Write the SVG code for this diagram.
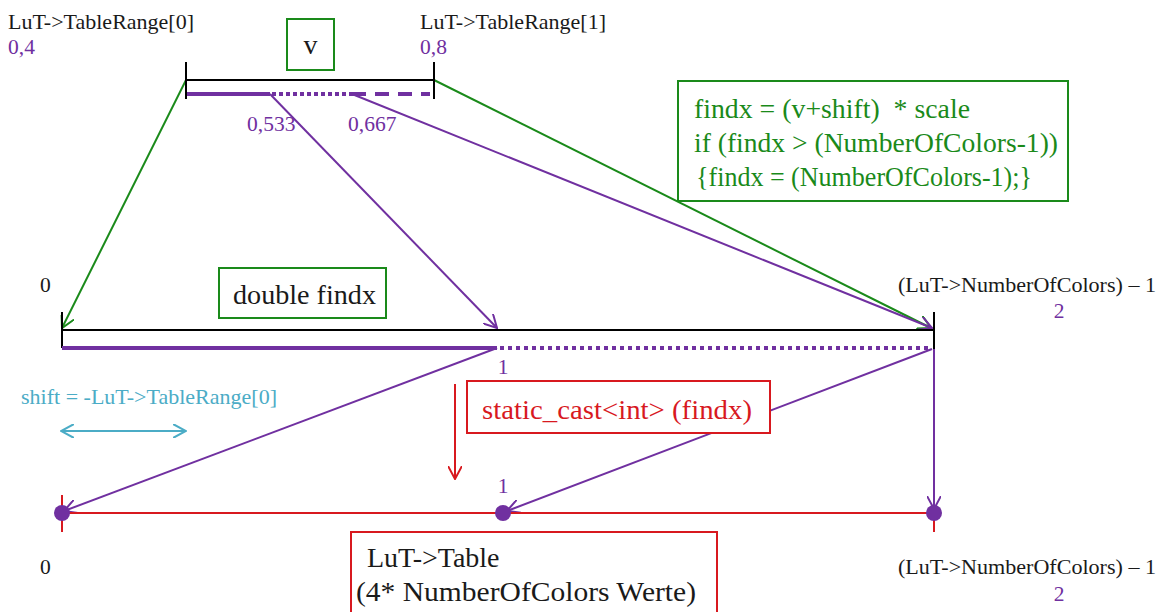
<svg xmlns="http://www.w3.org/2000/svg" width="1164" height="612" viewBox="0 0 1164 612">
<style>
text{font-family:"Liberation Serif","Times New Roman",serif}
.blk{fill:#1a1a1a}
.pur{fill:#7030a0}
.grn{fill:#1a8a1a}
.red{fill:#d8191f}
.cy{fill:#4bacc6}
.s{font-size:21.5px}
.m{font-size:28px}
.ln{fill:none;stroke-width:2}
.pl{stroke:#7030a0}
.gl{stroke:#1a8a1a}
.rl{stroke:#d8191f}
.bl{stroke:#000}
.box{fill:#fff;stroke-width:2}
</style>
<defs>
<marker id="ap" viewBox="0 0 14 14" refX="13" refY="7" markerWidth="14" markerHeight="14" markerUnits="userSpaceOnUse" orient="auto"><path d="M0,0 L13,7 L0,14" fill="none" stroke="#7030a0" stroke-width="2"/></marker>
<marker id="ag" viewBox="0 0 14 14" refX="13" refY="7" markerWidth="14" markerHeight="14" markerUnits="userSpaceOnUse" orient="auto"><path d="M0,0 L13,7 L0,14" fill="none" stroke="#1a8a1a" stroke-width="2"/></marker>
<marker id="ar" viewBox="0 0 14 14" refX="13" refY="7" markerWidth="14" markerHeight="14" markerUnits="userSpaceOnUse" orient="auto"><path d="M0,0 L13,7 L0,14" fill="none" stroke="#d8191f" stroke-width="2"/></marker>
<marker id="ac" viewBox="0 0 14 14" refX="13" refY="7" markerWidth="14" markerHeight="14" markerUnits="userSpaceOnUse" orient="auto-start-reverse"><path d="M0,0 L13,7 L0,14" fill="none" stroke="#4bacc6" stroke-width="2"/></marker>
</defs>

<g id="connectors">
<line class="ln gl" x1="186" y1="80" x2="62" y2="328" marker-end="url(#ag)"/>
<line class="ln gl" x1="434" y1="80" x2="931" y2="328" marker-end="url(#ag)"/>
<line class="ln pl" x1="270" y1="94" x2="497" y2="328" marker-end="url(#ap)"/>
<line class="ln pl" x1="352" y1="94" x2="932" y2="328" marker-end="url(#ap)"/>
<line class="ln pl" x1="497" y1="348" x2="64" y2="511" marker-end="url(#ap)"/>
<line class="ln pl" x1="932" y1="349" x2="507" y2="511" marker-end="url(#ap)"/>
<line class="ln pl" x1="934" y1="348" x2="934" y2="509" marker-end="url(#ap)"/>
<line class="ln rl" x1="455" y1="384" x2="455" y2="479" marker-end="url(#ar)"/>
<line class="ln" stroke="#4bacc6" x1="61" y1="431" x2="186" y2="431" marker-start="url(#ac)" marker-end="url(#ac)"/>
</g>

<g id="top-scale">
<line class="ln bl" x1="186" y1="80" x2="434" y2="80"/>
<line class="ln bl" x1="186" y1="62" x2="186" y2="99"/>
<line class="ln bl" x1="434" y1="62" x2="434" y2="99"/>
<line x1="187" y1="94" x2="270" y2="94" stroke="#7030a0" stroke-width="4"/>
<line x1="272" y1="94" x2="352" y2="94" stroke="#7030a0" stroke-width="4" stroke-dasharray="4 3"/>
<line x1="352" y1="94" x2="430" y2="94" stroke="#7030a0" stroke-width="4" stroke-dasharray="14 9"/>
<text class="s blk" x="8" y="29" textLength="186" lengthAdjust="spacingAndGlyphs">LuT-&gt;TableRange[0]</text>
<text class="s pur" x="8" y="54">0,4</text>
<text class="s blk" x="420" y="29" textLength="186" lengthAdjust="spacingAndGlyphs">LuT-&gt;TableRange[1]</text>
<text class="s pur" x="420" y="54">0,8</text>
<text class="s pur" x="247" y="131">0,533</text>
<text class="s pur" x="348" y="131">0,667</text>
</g>

<g id="v-box">
<rect class="box" stroke="#1a8a1a" x="287" y="19" width="47" height="51"/>
<text class="m blk" x="310.5" y="54" text-anchor="middle">v</text>
</g>

<g id="formula-box">
<rect class="box" stroke="#1a8a1a" x="678" y="81" width="390" height="120"/>
<text class="m grn" x="694" y="118" textLength="276" lengthAdjust="spacingAndGlyphs" style="white-space:pre">findx = (v+shift)  * scale</text>
<text class="m grn" x="694" y="152" textLength="364" lengthAdjust="spacingAndGlyphs">if (findx &gt; (NumberOfColors-1))</text>
<text class="m grn" x="696" y="186" textLength="336" lengthAdjust="spacingAndGlyphs">{findx = (NumberOfColors-1);}</text>
</g>

<g id="mid-scale">
<line class="ln bl" x1="62" y1="330" x2="934" y2="330"/>
<line class="ln bl" x1="62" y1="312" x2="62" y2="348"/>
<line class="ln bl" x1="934" y1="312" x2="934" y2="349"/>
<line x1="62" y1="348" x2="497" y2="348" stroke="#7030a0" stroke-width="4"/>
<line x1="500" y1="348" x2="932" y2="348" stroke="#7030a0" stroke-width="4" stroke-dasharray="4 4"/>
<text class="s blk" x="40" y="292">0</text>
<text class="s blk" x="898" y="292" textLength="258" lengthAdjust="spacingAndGlyphs">(LuT-&gt;NumberOfColors) – 1</text>
<text class="s pur" x="1059" y="318" text-anchor="middle">2</text>
<text class="s pur" x="503" y="374" text-anchor="middle">1</text>
</g>

<g id="double-findx-box">
<rect class="box" stroke="#1a8a1a" x="219" y="268" width="167" height="50"/>
<text class="m blk" x="233" y="304" textLength="143" lengthAdjust="spacingAndGlyphs">double findx</text>
</g>

<g id="shift-label">
<text class="s cy" x="21" y="404" textLength="256" lengthAdjust="spacingAndGlyphs">shift = -LuT-&gt;TableRange[0]</text>
</g>

<g id="cast-box">
<rect class="box" stroke="#d8191f" x="467" y="381" width="303" height="52"/>
<text class="m red" x="482" y="419" textLength="270" lengthAdjust="spacingAndGlyphs">static_cast&lt;int&gt; (findx)</text>
</g>

<g id="bottom-scale">
<line class="ln rl" x1="62" y1="513" x2="934" y2="513"/>
<line class="ln rl" x1="62" y1="495" x2="62" y2="532"/>
<line class="ln rl" x1="934" y1="513" x2="934" y2="532"/>
<circle cx="62" cy="513" r="8" fill="#7030a0"/>
<circle cx="503" cy="513" r="8" fill="#7030a0"/>
<circle cx="934" cy="513" r="8" fill="#7030a0"/>
<text class="s pur" x="503" y="493" text-anchor="middle">1</text>
<text class="s blk" x="40" y="574">0</text>
<text class="s blk" x="898" y="574" textLength="258" lengthAdjust="spacingAndGlyphs">(LuT-&gt;NumberOfColors) – 1</text>
<text class="s pur" x="1059" y="601" text-anchor="middle">2</text>
</g>

<g id="table-box">
<rect class="box" stroke="#d8191f" x="351" y="532" width="366" height="90"/>
<text class="m blk" x="367" y="567">LuT-&gt;Table</text>
<text class="m blk" x="356" y="601" textLength="340" lengthAdjust="spacingAndGlyphs">(4* NumberOfColors Werte)</text>
</g>
</svg>
